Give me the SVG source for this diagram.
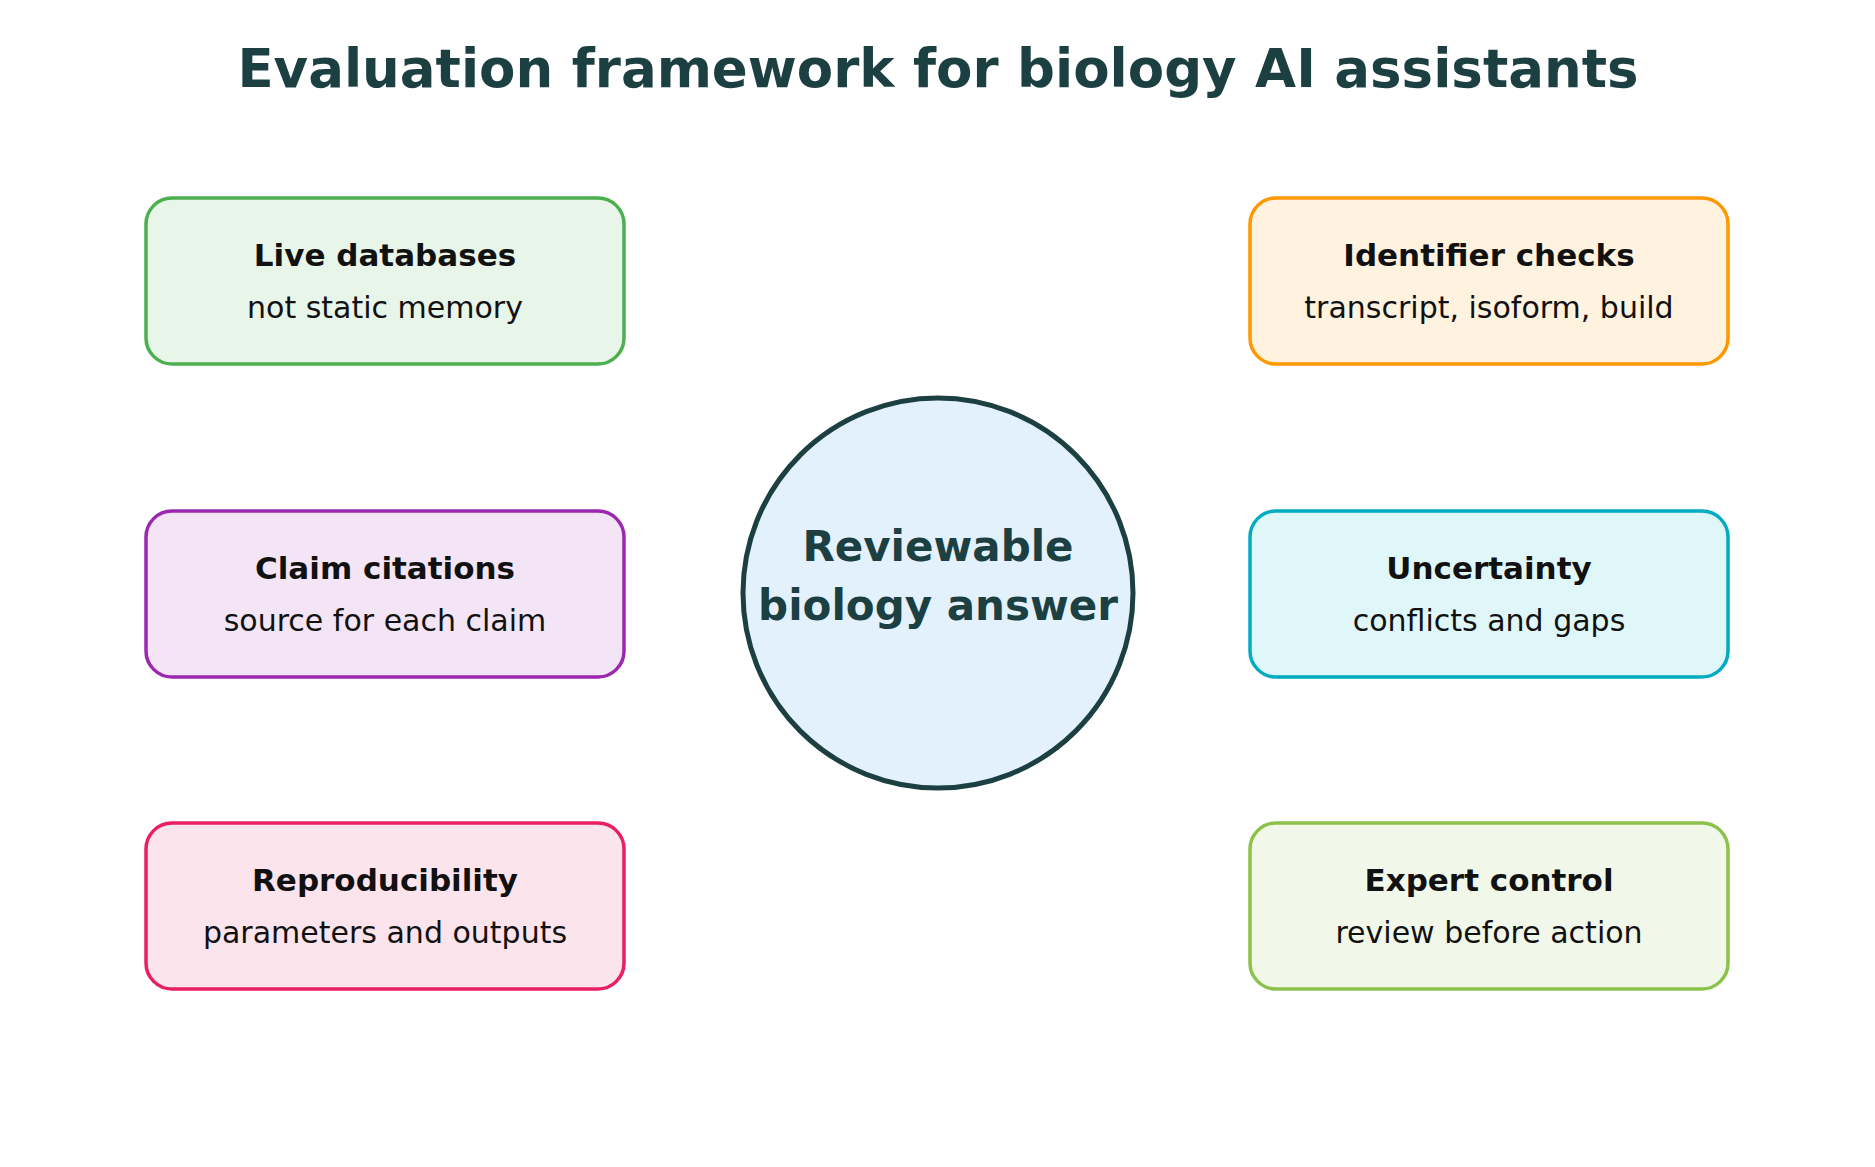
<svg xmlns="http://www.w3.org/2000/svg" width="1875" height="1167" viewBox="0 0 1875 1167">
<style>
text{font-family:"DejaVu Sans",sans-serif;text-anchor:middle}
.t{font-size:31px;font-weight:bold;fill:#111}
.s{font-size:30px;fill:#111}
.b{stroke-width:3.5}
</style>
<rect width="1875" height="1167" fill="#fff"/>
<text x="938" y="87" font-size="53" font-weight="bold" fill="#1c3f42">Evaluation framework for biology AI assistants</text>
<g id="connectors"/>
<g id="center"><circle cx="938" cy="593" r="195" fill="#e3f1fc" stroke="#1c3f42" stroke-width="5"/>
<text x="938" y="561" font-size="42" font-weight="bold" fill="#1c3f42">Reviewable</text>
<text x="938" y="620" font-size="42" font-weight="bold" fill="#1c3f42">biology answer</text></g>
<g id="live"><rect class="b" x="146" y="198" width="478" height="166" rx="26" fill="#e8f5e9" stroke="#4caf50"/><text class="t" x="385" y="266">Live databases</text><text class="s" x="385" y="318">not static memory</text></g>
<g id="claim"><rect class="b" x="146" y="511" width="478" height="166" rx="26" fill="#f3e5f5" stroke="#9c27b0"/><text class="t" x="385" y="579">Claim citations</text><text class="s" x="385" y="631">source for each claim</text></g>
<g id="repro"><rect class="b" x="146" y="823" width="478" height="166" rx="26" fill="#fce4ec" stroke="#e91e63"/><text class="t" x="385" y="891">Reproducibility</text><text class="s" x="385" y="943">parameters and outputs</text></g>
<g id="ident"><rect class="b" x="1250" y="198" width="478" height="166" rx="26" fill="#fff3e0" stroke="#ff9800"/><text class="t" x="1489" y="266">Identifier checks</text><text class="s" x="1489" y="318">transcript, isoform, build</text></g>
<g id="uncert"><rect class="b" x="1250" y="511" width="478" height="166" rx="26" fill="#e0f7fa" stroke="#00acc1"/><text class="t" x="1489" y="579">Uncertainty</text><text class="s" x="1489" y="631">conflicts and gaps</text></g>
<g id="expert"><rect class="b" x="1250" y="823" width="478" height="166" rx="26" fill="#f1f8e9" stroke="#8bc34a"/><text class="t" x="1489" y="891">Expert control</text><text class="s" x="1489" y="943">review before action</text></g>
</svg>
